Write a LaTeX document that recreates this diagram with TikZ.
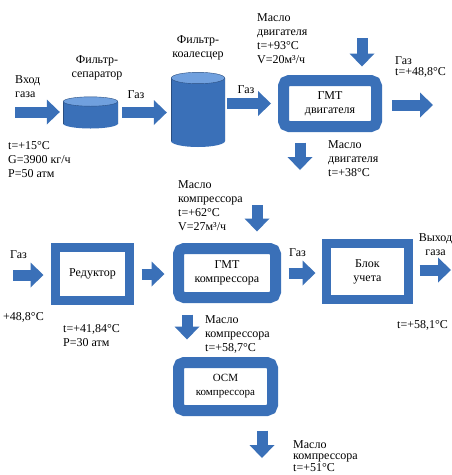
\documentclass[tikz,border=0pt]{standalone}
\usepackage{fontspec}
\setmainfont{Liberation Serif}
\newfontfamily\schemefont{Liberation Serif}
\usetikzlibrary{arrows.meta}
\definecolor{pipeblue}{RGB}{58,112,184}
\definecolor{pipetop}{RGB}{112,160,222}
\tikzset{
  gmtbox/.style={draw=pipeblue, line width=11pt, rounded corners=5.5pt, fill=white, align=center},
  unitbox/.style={draw=pipeblue, line width=9pt, fill=white, align=center},
  tank/.style 2 args={inner sep=0pt, minimum width=2*#1, path picture={
    \fill[pipeblue] ([yshift=#2]path picture bounding box.south) ellipse [x radius=#1, y radius=#2];
    \fill[pipeblue] ([yshift=-#2]path picture bounding box.north west) rectangle ([yshift=#2]path picture bounding box.south east);
    \draw[pipeblue!70!black, thin] ([yshift=-#2]path picture bounding box.north west) -- ([yshift=#2]path picture bounding box.south west)
      ([yshift=-#2]path picture bounding box.north east) -- ([yshift=#2]path picture bounding box.south east);
    \filldraw[fill=pipetop, draw=pipeblue!70!black, thin] ([yshift=-#2]path picture bounding box.north) ellipse [x radius=#1-0.3pt, y radius=#2-0.3pt];
  }},
  flow/.style={draw=pipeblue, line width=11pt, -{Triangle[length=13pt, width=25pt, line width=0pt]}},
  lbl/.style={align=left, inner sep=0pt},
  ctr/.style={align=center, inner sep=0pt}
}

\begin{document}
\begin{tikzpicture}[x=1pt, y=-1pt, font=\schemefont\fontsize{12}{14}\selectfont]
  \useasboundingbox[fill=white] (0,0) rectangle (452,475);
  % upper line: filters and engine heat exchanger
  \node[tank={27.5pt}{5pt}, minimum height=32pt] (sep) at (90.5,112.5) {};
  \node[tank={27pt}{6pt}, minimum height=75pt] (coal) at (198,109.5) {};
  \node[gmtbox, minimum width=93pt, minimum height=46pt] (gmtdv) at (330,103.5) {ГМТ\\двигателя};
  \node[ctr, anchor=north] (seplbl) at (97,55) {Фильтр-\\сепаратор};
  \node[ctr, anchor=north] (coallbl) at (198,35) {Фильтр-\\коалесцер};
  \node[lbl, anchor=north west] (inlbl) at (15,75) {Вход\\газа};
  \node[lbl, anchor=north west] (inpar) at (8,141) {t=+15°C\\G=3900 кг/ч\\P=50 атм};
  \node[ctr] (gas1) at (136,95) {Газ};
  \node[ctr] (gas2) at (246,90) {Газ};
  \node[lbl, anchor=north west] (oilin1lbl) at (257,13) {Масло\\двигателя\\t=+93°C\\V=20м³/ч};
  \node[lbl, anchor=north west, font=\schemefont\fontsize{12}{11.5}\selectfont] (gasout1lbl) at (395,56) {Газ\\t=+48,8°C};
  \node[lbl, anchor=north west] (oilout1lbl) at (328,140) {Масло\\двигателя\\t=+38°C};
  \coordinate (gasin) at (15,112);
  \coordinate (gasout) at (433,105);
  \coordinate (oilin) at (362,38);
  \coordinate (oilout) at (300,170);
  \draw[flow, shorten >=3pt] (gasin) -- (gasin -| sep.west);
  \draw[flow, shorten <=4pt, shorten >=4pt] (sep.east) -- (sep.east -| coal.west);
  \draw[flow, shorten <=2pt, shorten >=7pt] (coal.east |- gmtdv.west) -- (gmtdv.west);
  \draw[flow, shorten <=10pt] (gmtdv.east |- gasout) -- (gasout);
  \draw[flow, shorten >=8.5pt] (oilin) -- (oilin |- gmtdv.north);
  \draw[flow, shorten <=10.5pt] (oilout |- gmtdv.south) -- (oilout);
  % lower line: reducer, compressor heat exchangers, metering unit
  \node[unitbox, minimum width=74pt, minimum height=53pt] (red) at (92.5,274) {Редуктор};
  \node[gmtbox, minimum width=97pt, minimum height=49pt] (gmtkomp) at (227,273) {ГМТ\\компрессора};
  \node[unitbox, minimum width=82pt, minimum height=56pt] (blok) at (367.5,271.5) {Блок\\учета};
  \node[gmtbox, minimum width=94pt, minimum height=48pt, font=\schemefont\fontsize{11}{14}\selectfont] (osm) at (225.5,386.5) {ОСМ\\компрессора};
  \node[lbl, anchor=west] (gas3) at (10,255) {Газ};
  \node[lbl, anchor=west] (redin) at (3,317) {+48,8°C};
  \node[lbl, anchor=north west] (redpar) at (63,324) {t=+41,84°C\\P=30 атм};
  \node[lbl, anchor=north west] (oilin2lbl) at (178,180) {Масло\\компрессора\\t=+62°C\\V=27м³/ч};
  \node[ctr] (gas4) at (297.5,253) {Газ};
  \node[ctr, anchor=north] (outlbl) at (435.5,233) {Выход\\газа};
  \node[lbl, anchor=west] (bloktemp) at (397,325) {t=+58,1°C};
  \node[lbl, anchor=north west] (oilout2lbl) at (205,315) {Масло\\компрессора\\t=+58,7°C};
  \node[lbl, anchor=north west, font=\schemefont\fontsize{12}{11.5}\selectfont] (oilout3lbl) at (293,440) {Масло\\компрессора\\t=+51°C};
  \coordinate (gasin2) at (13,275);
  \coordinate (gasout2) at (451,270);
  \coordinate (oilin2) at (257,205);
  \coordinate (oilout3) at (262,458);
  \draw[flow, shorten >=7.5pt] (gasin2) -- (gasin2 -| red.west);
  \draw[flow, shorten <=7.5pt, shorten >=8.5pt] (red.east) -- (red.east -| gmtkomp.west);
  \draw[flow, shorten <=7.5pt, shorten >=6.5pt] (gmtkomp.east) -- (gmtkomp.east -| blok.west);
  \draw[flow, shorten <=6.5pt] (blok.east |- gasout2) -- (gasout2);
  \draw[flow, shorten >=11.5pt] (oilin2) -- (oilin2 |- gmtkomp.north);
  \draw[flow, shorten <=11.5pt, shorten >=17.5pt] ([xshift=-40pt]gmtkomp.south) -- ([xshift=-40pt]gmtkomp.south |- osm.north);
  \draw[flow, shorten <=14.5pt] (oilout3 |- osm.south) -- (oilout3);
\end{tikzpicture}
\end{document}
